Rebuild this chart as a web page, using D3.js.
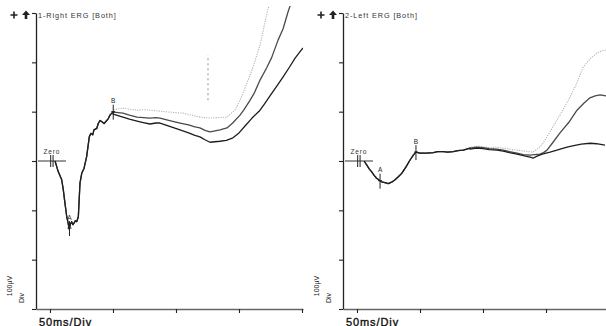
<!DOCTYPE html>
<html><head><meta charset="utf-8">
<script src="https://cdn.jsdelivr.net/npm/d3@7"></script>
<style>
html,body{margin:0;padding:0;background:#fff;}
svg{display:block;font-family:"Liberation Sans",Arial,sans-serif;}
</style></head>
<body>
<svg id="chart" width="606" height="326"></svg>
<script>
// ---------- DATA (time in ms, amplitude in µV) ----------
const panelTitles = ["1-Right ERG [Both]", "2-Left ERG [Both]"];
const timeTicks = [0, 50, 100, 150, 200];
const ampTicks = [-300, -200, -100, 0, 100, 200, 300];
const xUnitLabel = "50ms/Div";
const yUnitLabel = ["100µV", "Div"];

// Right eye: common onset up to B
const rightOnset = [
  [4.0,0],[6.6,-22],[9.3,-38],[10.6,-59],[11.9,-86],[13.3,-113],[14.0,-121],[15.3,-138],
  [16.2,-128],[17.2,-123],[18.2,-129],[19.0,-126],[20.2,-121],[21.2,-123],[22.5,-113],
  [23.8,-45],[25.2,-25],[27.0,-15],[29.1,9],[31.2,49],[32.5,56],[33.9,53],[34.9,63],
  [37.1,66],[38.3,76],[39.7,82],[41.0,80],[42.9,76],[44.4,80],[46.3,86],[47.6,93],[50.2,100]
];
const rightDotted = [
  [50.2,103],[54,106],[57.9,107],[63,105],[69.1,103],[74,104],[79.4,103],[88,101],[95.2,99],
  [100,98],[105.6,97],[112,93],[119.0,89],[123,88],[127.0,87],[133,88],[140.5,89],[143,95],
  [146.8,103],[150.8,123],[156.4,158],[161.1,190],[166.7,235],[172.2,300],[176.2,336]
];
const rightMid = [
  [50.2,99],[54,98],[57.9,97],[63,93],[69.1,89],[74,88],[79.4,87],[84,88],[87.3,87],[95,82],
  [103.2,77],[110,73],[115,69],[119.0,67],[123,62],[127.0,59],[131,61],[134.9,63],[140.5,67],
  [145,77],[150.8,93],[154,104],[158.7,123],[162,137],[166.7,164],[172.2,190],[176,210],
  [181.0,245],[185,268],[188.9,302],[192.1,326]
];
const rightLower = [
  [50.2,95],[54,92],[57.9,89],[63,85],[69.1,81],[74,78],[79.4,75],[84,77],[87.3,77],[95,70],
  [103.2,63],[110,57],[115,52],[119.0,49],[123,43],[127.0,38],[131,39],[134.9,40],[140,42],
  [145.2,47],[150,57],[154.8,71],[160,86],[166.7,103],[170,115],[174.6,132],[180,152],
  [184.9,170],[190,190],[194.4,208],[198,220],[200.8,229]
];
const rightArtifact = [[125.4,123],[125.4,215]];

// Left eye: common onset up to B
const leftOnset = [
  [5.6,0],[7.7,-8],[9.7,-16],[11.7,-22],[13.6,-29],[15.6,-35],[18.3,-40],[20.2,-43],[22.2,-44],
  [24.8,-46],[27.5,-43],[30.2,-38],[32.8,-32],[35.5,-25],[38.9,-12],[42.1,2],[44.7,12],[46.8,18]
];
const leftCommon = [
  [46.8,18],[50.0,16],[55.3,16],[60.6,17],[64,19],[68.5,19],[72,18],[76.4,19],[80,21],[84.4,22],[89.7,26]
];
const leftDotted = [
  [89.7,28],[95,30],[100,29],[105,27],[111.1,28],[116,26],[121,24],[127.0,22],[133,20],[139.7,18],
  [144,26],[147.6,36],[153.2,59],[158.7,83],[164,106],[169.1,130],[174,155],[179.4,190],[185,207],
  [190.5,219],[194,223],[197.6,225]
];
const leftMid = [
  [89.7,26],[95,28],[100,27],[105,25],[111.1,24],[116,22],[121,19],[127.0,16],[132,13],[137.3,12],
  [141,13],[145.2,14],[148,17],[150.8,22],[155.6,38],[161.1,57],[168,78],[174.6,103],[180,117],
  [184.9,128],[189,132],[192.9,134],[197.6,132]
];
const leftLower = [
  [89.7,24],[95,26],[100,25],[105,23],[111.1,22],[116,20],[121,17],[127.0,14],[132,11],[137.3,8],
  [140,6],[142.9,10],[147,14],[153.2,18],[160,23],[166.7,28],[172,31],[178,34],[184.9,36],
  [190,35],[196.8,32]
];

// Peak markers (time ms, amplitude µV at the marked point)
const rightMarkers = [{label:"A", t:15.5, v:-136}, {label:"B", t:50.2, v:100}];
const leftMarkers  = [{label:"A", t:18.3, v:-40},  {label:"B", t:46.8, v:18}];
const zeroMark = {label:"Zero", t:1.5, lineEnd:12.7};

// ---------- DRAW ----------
const svg = d3.select("#chart");
const yRange = [309, 13];

const panels = [
  {x0:36, x1:303, tmin:-11.1, tmax:200.8, title:panelTitles[0], markers:rightMarkers,
   traces:[
     {data: rightOnset.concat(rightDotted), cls:"dot"},
     {data: rightOnset.concat(rightMid), cls:"mid"},
     {data: rightOnset.concat(rightLower), cls:"low"},
     {data: rightArtifact, cls:"art"}
   ]},
  {x0:343, x1:606, tmin:-11.1, tmax:197.6, title:panelTitles[1], markers:leftMarkers,
   traces:[
     {data: leftOnset.concat(leftCommon, leftDotted), cls:"dot"},
     {data: leftOnset.concat(leftCommon, leftMid), cls:"mid"},
     {data: leftOnset.concat(leftCommon, leftLower), cls:"low"}
   ]}
];

const styles = {
  dot:{stroke:"#b4b4b4", width:1.1, dash:"1.2,1.2"},
  mid:{stroke:"#4a4a4a", width:1.3, dash:null},
  low:{stroke:"#1e1e1e", width:1.3, dash:null},
  art:{stroke:"#9a9a9a", width:1.1, dash:"2,3"}
};

panels.forEach((p, i) => {
  const x = d3.scaleLinear().domain([p.tmin, p.tmax]).range([p.x0, p.x1]);
  const y = d3.scaleLinear().domain([-300, 300]).range(yRange);
  const g = svg.append("g");

  const clipId = "clip" + i;
  svg.append("clipPath").attr("id", clipId).append("rect")
    .attr("x", p.x0).attr("y", 6).attr("width", p.x1 - p.x0).attr("height", yRange[0] - 6);

  // y axis
  const ya = g.append("g").attr("transform", `translate(${p.x0},0)`)
    .call(d3.axisLeft(y).tickValues(ampTicks).tickSize(4).tickSizeOuter(0).tickFormat(""));
  ya.select(".domain").attr("stroke", "#222").attr("stroke-width", 1.3);
  ya.selectAll(".tick line").attr("stroke", "#222").attr("stroke-width", 1.1);

  // x axis
  const xa = g.append("g").attr("transform", `translate(0,${yRange[0]})`)
    .call(d3.axisBottom(x).tickValues(timeTicks).tickSize(4).tickSizeOuter(0).tickFormat(""));
  xa.select(".domain").attr("stroke", "#666").attr("stroke-width", 1.3);
  xa.selectAll(".tick line").attr("stroke", "#222").attr("stroke-width", 1.1);

  // zero baseline + marker
  g.append("line").attr("x1", p.x0 + 2).attr("x2", x(zeroMark.lineEnd))
    .attr("y1", y(0)).attr("y2", y(0)).attr("stroke", "#333").attr("stroke-width", 1);
  [-1.2, 1.2].forEach(d => {
    g.append("line").attr("x1", x(zeroMark.t) + d).attr("x2", x(zeroMark.t) + d)
      .attr("y1", y(0) - 6).attr("y2", y(0) + 6).attr("stroke", "#222").attr("stroke-width", 1);
  });
  g.append("text").attr("x", x(zeroMark.t)).attr("y", y(0) - 7.5).attr("text-anchor", "middle")
    .attr("font-size", 6.5).attr("letter-spacing", 0.9).attr("fill", "#333").text(zeroMark.label);

  // traces
  const line = d3.line().x(d => x(d[0])).y(d => y(d[1]));
  const tg = g.append("g").attr("clip-path", `url(#${clipId})`);
  p.traces.forEach(tr => {
    const s = styles[tr.cls];
    tg.append("path").datum(tr.data).attr("d", line).attr("fill", "none")
      .attr("stroke", s.stroke).attr("stroke-width", s.width)
      .attr("stroke-linejoin", "round")
      .attr("stroke-dasharray", s.dash);
  });

  // peak markers
  p.markers.forEach(m => {
    const mx = x(m.t), my = y(m.v);
    g.append("line").attr("x1", mx).attr("x2", mx).attr("y1", my - 7).attr("y2", my + 8)
      .attr("stroke", "#222").attr("stroke-width", 1);
    g.append("line").attr("x1", mx - 2).attr("x2", mx + 2).attr("y1", my).attr("y2", my)
      .attr("stroke", "#222").attr("stroke-width", 1);
    g.append("text").attr("x", mx).attr("y", my - 8.5).attr("text-anchor", "middle")
      .attr("font-size", 6.5).attr("fill", "#222").text(m.label);
  });

  // title
  g.append("text").attr("x", p.x0 + 2).attr("y", 17.5).attr("font-size", 7.3)
    .attr("letter-spacing", 0.9).attr("fill", "#333").text(p.title);

  // + and arrow icons
  const ix = p.x0 - 22, iy = 15;
  g.append("path").attr("d", `M${ix-3.5},${iy}H${ix+3.5}M${ix},${iy-3.5}V${iy+3.5}`)
    .attr("stroke", "#222").attr("stroke-width", 1.6);
  const ax = p.x0 - 10;
  g.append("path").attr("d", `M${ax},${iy-4.5}L${ax+4},${iy}H${ax+1.3}V${iy+4}H${ax-1.3}V${iy}H${ax-4}Z`)
    .attr("fill", "#222");

  // y unit label
  g.append("text").attr("transform", `translate(${p.x0 - 24},${286}) rotate(-90)`)
    .attr("text-anchor", "middle").attr("font-size", 7).attr("fill", "#222").text(yUnitLabel[0]);
  g.append("text").attr("transform", `translate(${p.x0 - 12},${298}) rotate(-90)`)
    .attr("text-anchor", "middle").attr("font-size", 7).attr("fill", "#222").text(yUnitLabel[1]);

  // x unit label
  g.append("text").attr("x", p.x0 + 3).attr("y", 325.5).attr("font-size", 11)
    .attr("letter-spacing", 0.9).attr("fill", "#111")
    .attr("stroke", "#111").attr("stroke-width", 0.35).text(xUnitLabel);
});
</script>
</body></html>
